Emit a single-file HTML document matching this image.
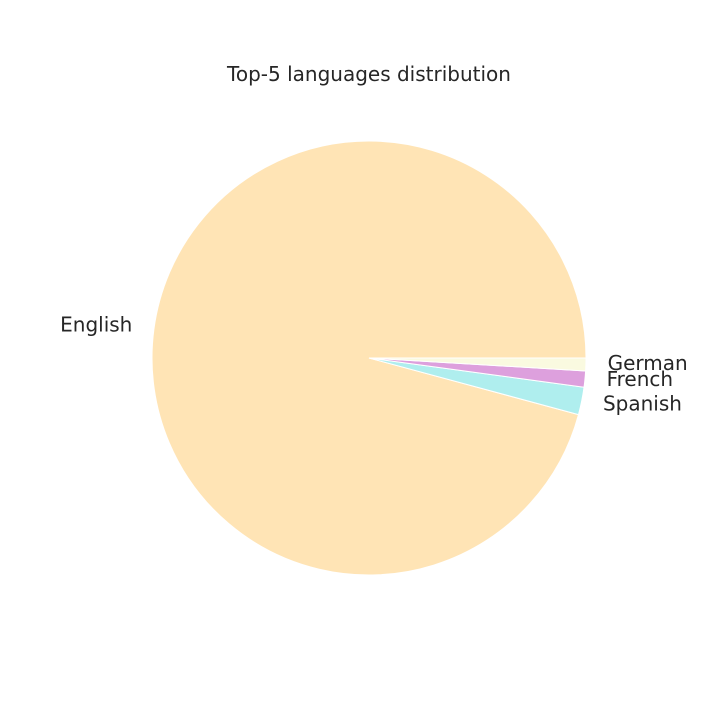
<!DOCTYPE html>
<html><head><meta charset="utf-8"><style>
html,body{margin:0;padding:0;background:#fff;}
svg text{font-family:"DejaVu Sans","Liberation Sans",sans-serif;fill:#262626;}
</style></head><body>
<svg id="chart" width="720" height="720" viewBox="0 0 720 720" xmlns="http://www.w3.org/2000/svg">
<rect width="720" height="720" fill="#fff"/>
<text x="369" y="81" font-size="20" text-anchor="middle">Top-5 languages distribution</text>
<g id="slices"></g>
<g id="labels"></g>
</svg>
<script>
const categories = ["English", "Spanish", "French", "German"];
const values = [95.8, 2.05, 1.2, 0.95];
const colors = ["#ffe4b5", "#afeeee", "#dda0dd", "#fafae0"];
const cx = 369, cy = 358, r = 217;
const ns = "http://www.w3.org/2000/svg";
const total = values.reduce((a, b) => a + b, 0);
let start = 0;
const gS = document.getElementById("slices"), gL = document.getElementById("labels");
function pt(deg, rad) { const a = deg * Math.PI / 180; return [cx + rad * Math.cos(a), cy - rad * Math.sin(a)]; }
values.forEach((v, i) => {
  const sweep = v / total * 360, end = start + sweep;
  const [x1, y1] = pt(start, r), [x2, y2] = pt(end, r);
  const large = sweep > 180 ? 1 : 0;
  const p = document.createElementNS(ns, "path");
  p.setAttribute("d", `M${cx},${cy} L${x1},${y1} A${r},${r} 0 ${large} 0 ${x2},${y2} Z`);
  p.setAttribute("fill", colors[i]);
  p.setAttribute("stroke", "#fff");
  p.setAttribute("stroke-width", "1");
  
  
  gS.appendChild(p);
  const mid = (start + end) / 2;
  const [lx, ly] = pt(mid, r * 1.1);
  const t = document.createElementNS(ns, "text");
  t.setAttribute("x", lx);
  t.setAttribute("y", ly + 5);
  t.setAttribute("font-size", "20");
  t.setAttribute("text-anchor", lx > cx ? "start" : "end");
  t.textContent = categories[i];
  
  
  gL.appendChild(t);
  start = end;
});
</script>
</body></html>
